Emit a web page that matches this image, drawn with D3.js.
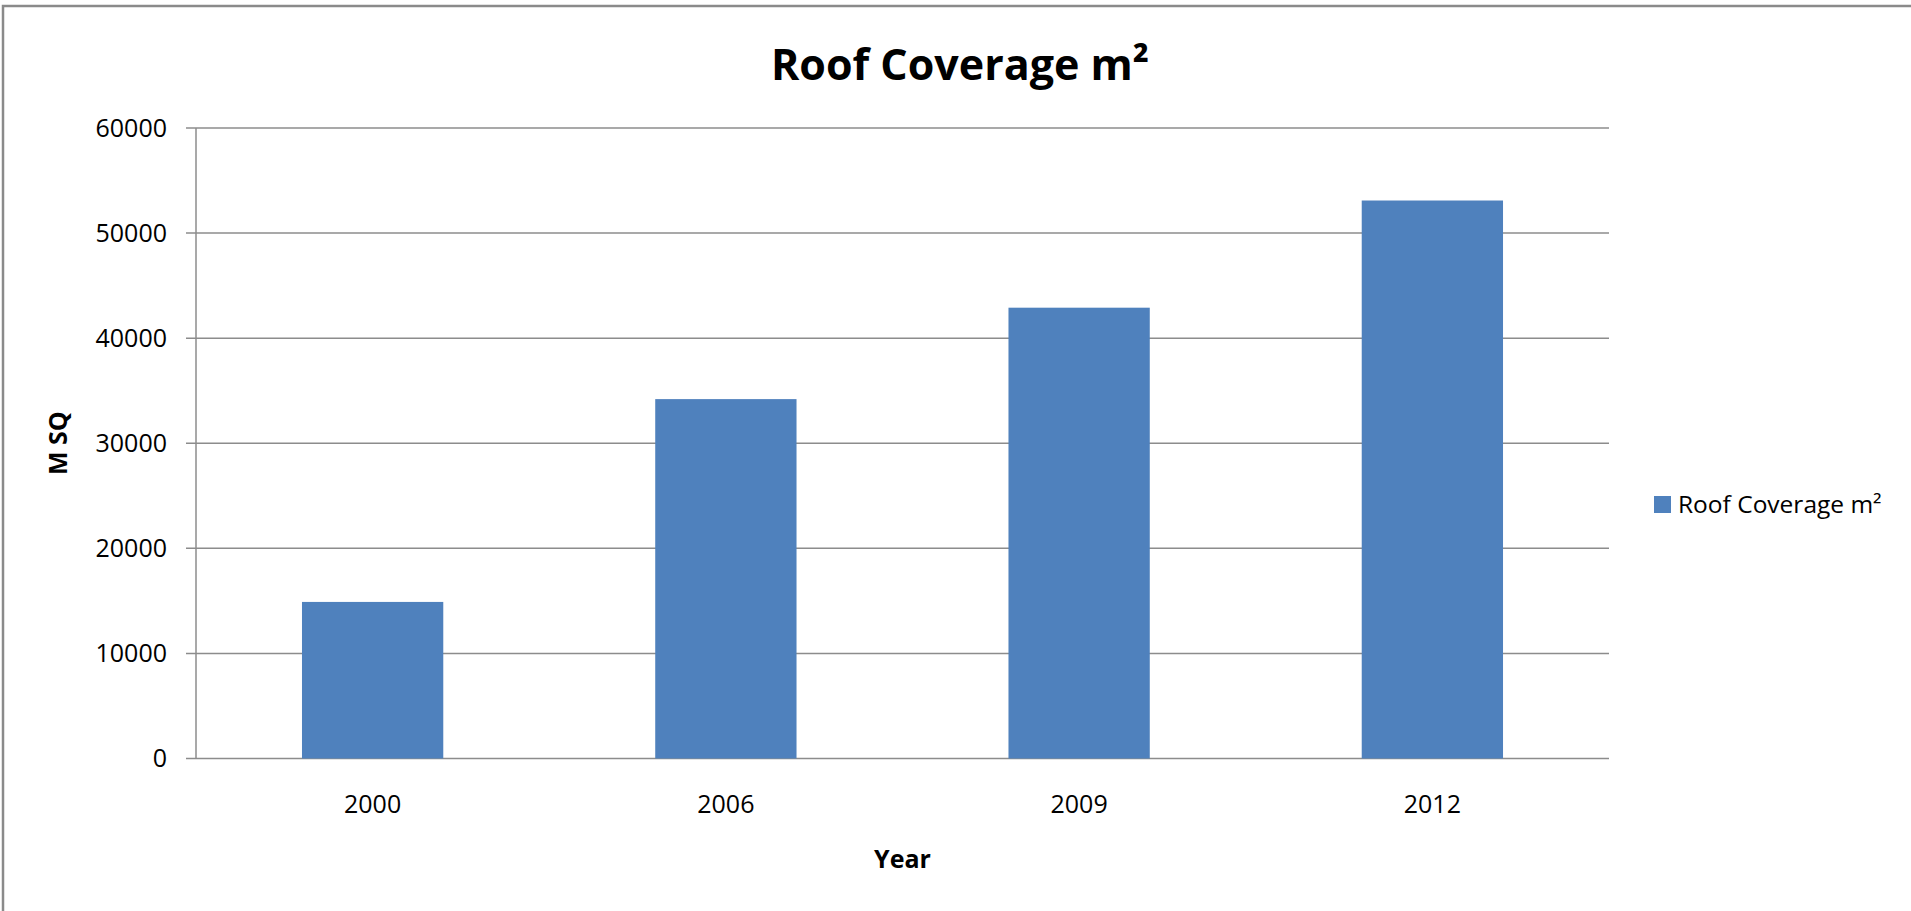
<!DOCTYPE html>
<html>
<head>
<meta charset="utf-8">
<script src="https://cdn.jsdelivr.net/npm/d3@7"></script>
<style>
  html, body { margin: 0; padding: 0; background: #fff; overflow: hidden; }
  svg { display: block; }
  text { font-family: "Open Sans", "DejaVu Sans", sans-serif; fill: #000; }
</style>
</head>
<body>
<svg id="chart" width="1911" height="911"></svg>
<script>
const categories = ["2000", "2006", "2009", "2012"];
const seriesName = "Roof Coverage m²";
const values = [14900, 34200, 42900, 53100];
const yTicks = [0, 10000, 20000, 30000, 40000, 50000, 60000];
const titleText = "Roof Coverage m²";
const yAxisTitle = "M SQ";
const xAxisTitle = "Year";

const W = 1911, H = 911;
const plot = { left: 196, right: 1609, top: 128, bottom: 758.5 };
const barColor = "#4F81BD";
const gridColor = "#8c8c8c";

const svg = d3.select("#chart");

// outer frame (only top and left edges fall inside the picture)
svg.append("path")
  .attr("d", `M3,${H} L3,6 L${W},6`)
  .attr("fill", "none").attr("stroke", "#8a8a8a").attr("stroke-width", 2.5);

const x = d3.scaleBand()
  .domain(categories)
  .range([plot.left, plot.right])
  .paddingInner(0.6)
  .paddingOuter(0.3);

const y = d3.scaleLinear()
  .domain([0, 60000])
  .range([plot.bottom, plot.top]);

// gridlines
svg.append("g")
  .selectAll("line")
  .data(yTicks)
  .join("line")
  .attr("x1", plot.left - 10)
  .attr("x2", plot.right)
  .attr("y1", d => y(d))
  .attr("y2", d => y(d))
  .attr("stroke", gridColor)
  .attr("stroke-width", 1.5);

// y axis line
svg.append("line")
  .attr("x1", plot.left).attr("x2", plot.left)
  .attr("y1", plot.top).attr("y2", plot.bottom)
  .attr("stroke", gridColor).attr("stroke-width", 1.5);

// bars
svg.append("g")
  .selectAll("rect")
  .data(values)
  .join("rect")
  .attr("x", (d, i) => x(categories[i]))
  .attr("width", x.bandwidth())
  .attr("y", d => y(d))
  .attr("height", d => y(0) - y(d))
  .attr("fill", barColor);

// y axis labels
const yAxis = d3.axisLeft(y).tickValues(yTicks).tickSize(0).tickPadding(29).tickFormat(d3.format("d"));
const gy = svg.append("g").attr("transform", `translate(${plot.left},0)`).call(yAxis);
gy.select(".domain").remove();
gy.selectAll("text")
  .style("font-family", '"Open Sans", sans-serif')
  .style("font-size", "25px")
  .attr("fill", "#222");

// x axis labels
const xAxis = d3.axisBottom(x).tickSize(0).tickPadding(37);
const gx = svg.append("g").attr("transform", `translate(0,${plot.bottom})`).call(xAxis);
gx.select(".domain").remove();
gx.selectAll("text")
  .style("font-family", '"Open Sans", sans-serif')
  .style("font-size", "25px")
  .attr("fill", "#222");

// title
svg.append("text")
  .attr("x", 960).attr("y", 80)
  .attr("text-anchor", "middle")
  .style("font-size", "43px").style("font-weight", "bold")
  .text(titleText);

// axis titles
svg.append("text")
  .attr("transform", `translate(67,${(plot.top + plot.bottom) / 2}) rotate(-90)`)
  .attr("text-anchor", "middle")
  .style("font-size", "25px").style("font-weight", "bold")
  .text(yAxisTitle);

svg.append("text")
  .attr("x", (plot.left + plot.right) / 2).attr("y", 868)
  .attr("text-anchor", "middle")
  .style("font-size", "25px").style("font-weight", "bold")
  .text(xAxisTitle);

// legend
const lg = svg.append("g").attr("transform", "translate(1654,496)");
lg.append("rect").attr("width", 17).attr("height", 17).attr("fill", barColor);
lg.append("text").attr("x", 24).attr("y", 17)
  .style("font-size", "24.5px").attr("fill", "#222")
  .text(seriesName);
</script>
</body>
</html>
